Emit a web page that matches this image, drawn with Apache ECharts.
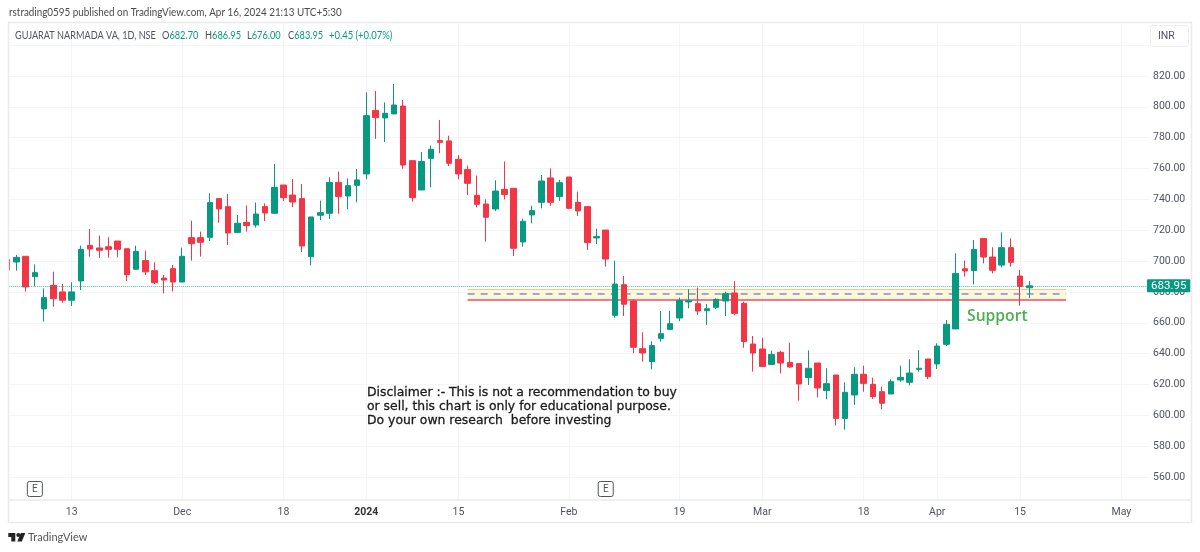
<!DOCTYPE html>
<html>
<head>
<meta charset="utf-8">
<title>GUJARAT NARMADA VA</title>
<script src="https://cdn.jsdelivr.net/npm/echarts@6/dist/echarts.min.js"></script>
<style>
  html, body { margin: 0; padding: 0; background: #fff; }
  #chart { width: 1200px; height: 552px; }
</style>
</head>
<body>
<div id="chart"></div>
<script>
// trading days, the tail past Apr 16 is empty room on the time scale
const dates = [
  '2023-11-03','2023-11-06','2023-11-07','2023-11-08','2023-11-09','2023-11-10','2023-11-12','2023-11-13','2023-11-15','2023-11-16',
  '2023-11-17','2023-11-20','2023-11-21','2023-11-22','2023-11-23','2023-11-24','2023-11-28','2023-11-29','2023-11-30','2023-12-01',
  '2023-12-04','2023-12-05','2023-12-06','2023-12-07','2023-12-08','2023-12-11','2023-12-12','2023-12-13','2023-12-14','2023-12-15',
  '2023-12-18','2023-12-19','2023-12-20','2023-12-21','2023-12-22','2023-12-26','2023-12-27','2023-12-28','2023-12-29','2024-01-01',
  '2024-01-02','2024-01-03','2024-01-04','2024-01-05','2024-01-08','2024-01-09','2024-01-10','2024-01-11','2024-01-12','2024-01-15',
  '2024-01-16','2024-01-17','2024-01-18','2024-01-19','2024-01-20','2024-01-23','2024-01-24','2024-01-25','2024-01-29','2024-01-30',
  '2024-01-31','2024-02-01','2024-02-02','2024-02-05','2024-02-06','2024-02-07','2024-02-08','2024-02-09','2024-02-12','2024-02-13',
  '2024-02-14','2024-02-15','2024-02-16','2024-02-19','2024-02-20','2024-02-21','2024-02-22','2024-02-23','2024-02-26','2024-02-27',
  '2024-02-28','2024-02-29','2024-03-01','2024-03-02','2024-03-04','2024-03-05','2024-03-06','2024-03-07','2024-03-11','2024-03-12',
  '2024-03-13','2024-03-14','2024-03-15','2024-03-18','2024-03-19','2024-03-20','2024-03-21','2024-03-22','2024-03-26','2024-03-27',
  '2024-03-28','2024-04-01','2024-04-02','2024-04-03','2024-04-04','2024-04-05','2024-04-08','2024-04-09','2024-04-10','2024-04-12',
  '2024-04-15','2024-04-16','2024-04-18','2024-04-19','2024-04-22','2024-04-23','2024-04-24','2024-04-25','2024-04-26','2024-04-29',
  '2024-04-30','2024-05-01','2024-05-02','2024-05-03','2024-05-06'
];

const opens = [
  701.1,699.4,703.1,689.9,669.0,684.3,680.0,674.6,687.1,710.2,
  708.5,709.3,713.0,708.0,694.7,700.3,693.8,689.0,695.1,686.4,
  715.2,715.2,715.4,740.5,735.3,718.6,725.1,723.4,735.3,731.0,
  749.3,742.8,740.5,702.9,729.7,731.0,751.0,742.2,749.1,756.5,
  797.7,792.8,795.4,800.5,765.1,746.1,766.6,778.1,777.9,766.0,
  759.3,742.6,737.0,733.8,746.5,747.2,712.4,729.9,738.1,753.9,
  741.8,754.5,738.1,735.3,715.0,720.1,664.8,684.7,674.1,643.2,
  634.8,649.9,655.7,663.1,673.5,672.4,667.8,670.0,674.1,679.3,
  672.6,646.2,643.0,633.0,640.8,634.3,633.5,624.4,633.9,616.0,
  626.1,598.0,613.2,626.6,620.1,615.3,613.8,622.9,621.4,629.8,
  636.5,633.3,646.0,656.0,695.0,693.8,714.7,702.6,697.4,708.7,
  690.3,682.7
];
const closes = [
  694.2,702.4,683.2,692.5,676.3,675.6,674.6,680.0,707.6,707.8,
  707.0,707.6,707.6,691.2,706.3,693.0,686.0,687.7,686.4,703.1,
  711.3,712.2,737.9,733.8,718.2,724.5,723.0,730.5,731.2,747.8,
  741.1,738.3,709.8,728.6,731.4,751.0,741.8,748.9,752.6,794.3,
  793.0,795.8,801.2,762.3,741.1,764.5,772.5,777.0,763.4,756.5,
  750.4,736.8,728.4,745.4,743.1,708.3,725.8,732.7,751.9,738.1,
  750.8,734.2,732.5,712.0,716.0,701.3,685.1,672.0,644.1,640.4,
  645.2,652.9,659.4,674.5,674.3,667.6,669.1,675.2,678.9,666.1,
  647.8,640.4,631.7,639.5,633.9,631.3,620.3,630.5,617.7,620.5,
  598.0,614.9,626.6,620.7,612.1,607.8,621.8,624.6,627.4,630.5,
  625.0,644.9,659.0,692.0,693.6,707.6,702.6,694.0,708.7,699.2,
  683.6,683.95
];
const lows = [
  693.0,693.8,680.2,683.8,660.7,670.4,673.0,670.9,681.2,702.9,
  702.0,702.2,702.4,687.1,694.5,691.0,685.1,679.0,680.2,686.4,
  700.3,702.9,713.0,724.9,710.4,718.6,719.1,721.7,726.0,731.0,
  739.0,734.9,705.9,697.2,726.6,727.3,730.7,733.6,738.1,753.0,
  779.2,777.2,795.4,759.9,738.5,746.1,747.8,769.9,761.6,753.0,
  742.8,734.8,712.6,732.5,740.0,703.3,709.3,724.5,734.2,735.9,
  739.0,733.6,729.2,707.2,711.0,696.4,663.3,664.4,640.2,634.8,
  629.8,647.8,655.7,661.0,669.4,665.0,658.6,669.0,664.4,664.8,
  643.8,628.3,631.7,633.0,627.2,630.9,609.5,619.6,611.6,610.4,
  593.5,590.7,606.7,615.3,610.6,603.9,613.8,621.8,619.4,628.3,
  623.5,630.0,644.9,656.0,689.9,684.9,698.5,692.0,695.9,696.4,
  671.1,676.0
];
const highs = [
  702.0,704.0,703.1,697.9,682.3,693.1,685.1,686.2,710.0,720.8,
  716.5,715.4,713.0,708.0,710.0,706.8,699.2,691.0,697.5,708.7,
  726.2,719.1,743.9,740.5,743.5,729.9,736.0,738.0,737.4,763.0,
  749.3,753.2,750.0,728.6,739.2,754.3,758.0,753.6,759.7,809.4,
  810.3,802.9,814.8,804.4,765.1,770.7,775.0,791.5,781.3,768.8,
  761.9,755.4,740.0,752.4,764.5,747.2,727.5,735.9,755.8,760.1,
  752.6,754.5,745.0,735.3,721.0,720.1,700.3,690.3,675.2,653.8,
  648.0,667.6,667.8,676.3,681.7,682.8,672.2,675.8,680.2,686.95,
  673.7,651.4,650.3,641.9,641.9,647.1,633.7,642.1,633.9,630.5,
  626.1,621.4,631.1,632.2,624.4,618.6,623.3,632.2,636.3,642.3,
  636.5,646.7,661.8,705.0,700.3,713.7,714.7,708.9,718.6,714.7,
  694.2,686.95
];

const tickDates = ['2023-11-13','2023-12-01','2023-12-18','2024-01-01','2024-01-15','2024-02-01','2024-02-19','2024-03-01','2024-03-18','2024-04-01','2024-04-15','2024-05-01'];
const tickLabels = ['13','Dec','18','2024','15','Feb','19','Mar','18','Apr','15','May'];
const priceLabels = [560,580,600,620,640,660,680,700,720,740,760,780,800,820];
const priceLines = [560,580,600,620,640,660,680,700,720,740,760,780,800,820,840];

const lastPrice = 683.95;
const zoneTop = 681.9, zoneMid = 678.6, zoneBottom = 675.2;
const zoneFrom = '2024-01-16', zoneTo = '2024-04-23';
const earnings = ['2023-11-08','2024-02-07'];
const earningsRow = 552.2;

const publishLine = 'rstrading0595 published on TradingView.com, Apr 16, 2024 21:13 UTC+5:30';
const symbolName = 'GUJARAT NARMADA VA, 1D, NSE';
const ohlcLabels = ['O','H','L','C'];
const ohlcValues = ['682.70','686.95','676.00','683.95'];
const changeText = '+0.45 (+0.07%)';
const disclaimer = [
  'Disclaimer :- This is not a recommendation to buy',
  'or sell, this chart is only for educational purpose.',
  'Do your own research  before investing'
];

const UP = '#089981', DOWN = '#f23645', GRID = '#f4f5f7', FRAME = '#e9eaee', TEXT = '#50535e';
const FONT = 'Lato, sans-serif';
const AXIS_FONT = 'Roboto, sans-serif';
const ROUND_BOX = 'path://M2 0H13A2 2 0 0 1 15 2V13A2 2 0 0 1 13 15H2A2 2 0 0 1 0 13V2A2 2 0 0 1 2 0Z';

let myChart = echarts.init(document.getElementById('chart'));

let candles = opens.map((o, i) => [o, closes[i], lows[i], highs[i]]);
let isTick = (i, v) => tickDates.includes(v);

// header pieces sit at their own x, the original font runs narrower than Lato
let legendX = [162, 205, 247, 288];
let legendItems = ohlcLabels.map((l, i) => ({
  type: 'text', x: legendX[i], y: 30, scaleX: 0.88, z: 60,
  style: {
    text: '{lab|' + l + '}{val|' + ohlcValues[i] + '}',
    rich: {
      lab: { fill: TEXT, fontSize: 10.5, fontFamily: FONT },
      val: { fill: UP, fontSize: 10.5, fontFamily: FONT }
    }
  }
}));

let option = {
  animation: false,
  backgroundColor: '#fff',
  textStyle: { fontFamily: AXIS_FONT },
  grid: { left: 7.24, right: 51, top: 22, bottom: 52 },
  xAxis: {
    type: 'category',
    data: dates,
    boundaryGap: false,
    axisLine: { show: false },
    axisTick: { show: false },
    splitLine: { show: true, interval: isTick, lineStyle: { color: GRID } },
    axisLabel: {
      interval: isTick,
      color: TEXT,
      fontSize: 10.5,
      margin: 7,
      formatter: v => {
        let t = tickLabels[tickDates.indexOf(v)];
        return t === '2024' ? '{b|' + t + '}' : t;
      },
      rich: { b: { fontWeight: 'bold', fontSize: 10.5, color: '#333', fontFamily: AXIS_FONT } }
    }
  },
  yAxis: {
    type: 'value',
    position: 'right',
    min: 545.08,
    max: 855.01,
    axisLine: { show: false },
    axisTick: { show: false, customValues: priceLines },
    splitLine: { show: true, lineStyle: { color: GRID } },
    axisLabel: {
      customValues: priceLabels,
      color: TEXT,
      fontSize: 10.5,
      margin: 4,
      lineHeight: 12,
      padding: [3, 0, 0, 0],
      formatter: v => v.toFixed(2)
    }
  },
  series: [
    {
      // support zone and earnings flags sit under the candles
      type: 'line',
      z: 1,
      data: [],
      silent: true,
      markArea: {
        silent: true,
        z: 1,
        itemStyle: { color: 'rgba(255,238,170,0.42)' },
        data: [[{ xAxis: zoneFrom, yAxis: zoneTop }, { xAxis: zoneTo, yAxis: zoneBottom }]]
      },
      markLine: {
        silent: true,
        z: 2,
        symbol: 'none',
        label: { show: false },
        data: [
          [{ xAxis: zoneFrom, yAxis: zoneTop, lineStyle: { color: '#f7c48c', width: 1, type: 'solid' } }, { xAxis: zoneTo, yAxis: zoneTop }],
          [{ xAxis: zoneFrom, yAxis: zoneMid, lineStyle: { color: '#7f8dd4', width: 1.5, type: [7, 6] } }, { xAxis: zoneTo, yAxis: zoneMid }],
          [{ xAxis: zoneFrom, yAxis: zoneBottom, lineStyle: { color: '#e8505b', width: 1.5, type: 'solid' } }, { xAxis: zoneTo, yAxis: zoneBottom }]
        ]
      },
      markPoint: {
        silent: true,
        z: 2,
        symbol: ROUND_BOX,
        symbolSize: 15,
        itemStyle: { color: '#fff', borderColor: '#50535e', borderWidth: 1 },
        label: { show: true, formatter: 'E', color: '#50535e', fontSize: 10, fontFamily: AXIS_FONT },
        data: earnings.map(d => ({ coord: [d, earningsRow] }))
      }
    },
    {
      type: 'candlestick',
      z: 3,
      barWidth: 6,
      data: candles,
      itemStyle: { color: UP, color0: DOWN, borderColor: UP, borderColor0: DOWN, borderWidth: 1 },
      markLine: {
        silent: true,
        symbol: 'none',
        z: 10,
        lineStyle: { color: 'rgba(8,153,129,0.7)', type: 'dotted', width: 1 },
        label: {
          position: 'end',
          distance: -2,
          formatter: lastPrice.toFixed(2),
          color: '#fff',
          fontSize: 11.5,
          fontFamily: AXIS_FONT,
          backgroundColor: UP,
          padding: [1, 4, 0, 4],
          borderRadius: 1
        },
        data: [{ yAxis: lastPrice }]
      }
    }
  ],
  graphic: [
    // the pane cuts the first candle at its left edge
    { type: 'rect', z: 50, silent: true, shape: { x: 0, y: 22, width: 8, height: 478 }, style: { fill: '#fff' } },
    { type: 'rect', z: 51, silent: true, shape: { x: 8.5, y: 22.5, width: 1183, height: 500 }, style: { fill: 'none', stroke: FRAME, lineWidth: 1.5 } },
    { type: 'line', z: 51, silent: true, shape: { x1: 8, y1: 500, x2: 1191, y2: 500 }, style: { stroke: FRAME, lineWidth: 1.5 } },
    { type: 'text', x: 9, y: 7, scaleX: 0.94, z: 60, style: { text: publishLine, fill: '#4a4a4a', fontSize: 10.5, fontFamily: FONT } },
    { type: 'text', x: 15, y: 30, scaleX: 0.87, z: 60, style: { text: symbolName, fill: TEXT, fontSize: 10.5, fontFamily: FONT } },
    ...legendItems,
    { type: 'text', x: 329, y: 30, scaleX: 0.9, z: 60, style: { text: changeText, fill: UP, fontSize: 10.5, fontFamily: FONT } },
    { type: 'rect', z: 55, silent: true, shape: { x: 1150.5, y: 25.5, width: 38, height: 21, r: 2 }, style: { fill: '#fff', stroke: '#eceef2', lineWidth: 1 } },
    { type: 'text', x: 1158, y: 31, z: 60, style: { text: 'INR', fill: TEXT, fontSize: 10.5, fontFamily: AXIS_FONT } },
    { type: 'text', x: 967, y: 309, z: 60, style: { text: 'Support', fill: '#4caf50', fontSize: 15.7, fontWeight: 600, fontFamily: '"Open Sans", sans-serif' } },
    { type: 'text', x: 367, y: 386, z: 60, style: { text: disclaimer.join('\n'), fill: '#1a1a1a', stroke: '#1a1a1a', lineWidth: 0.3, fontSize: 12.4, lineHeight: 13.8, fontFamily: '"DejaVu Sans", sans-serif' } },
    { type: 'polygon', silent: true, shape: { points: [[8.3, 533], [15.3, 533], [15.3, 541.5], [11.3, 541.5], [11.3, 537], [8.3, 537]] }, style: { fill: '#222' } },
    { type: 'circle', silent: true, shape: { cx: 18.3, cy: 535, r: 2 }, style: { fill: '#222' } },
    { type: 'polygon', silent: true, shape: { points: [[20.8, 533], [25.3, 533], [21.8, 541.5], [17.3, 541.5]] }, style: { fill: '#222' } },
    { type: 'text', x: 28, y: 532, z: 60, style: { text: 'TradingView', fill: '#555', fontSize: 11, fontFamily: FONT } }
  ]
};

myChart.setOption(option);
</script>
</body>
</html>
